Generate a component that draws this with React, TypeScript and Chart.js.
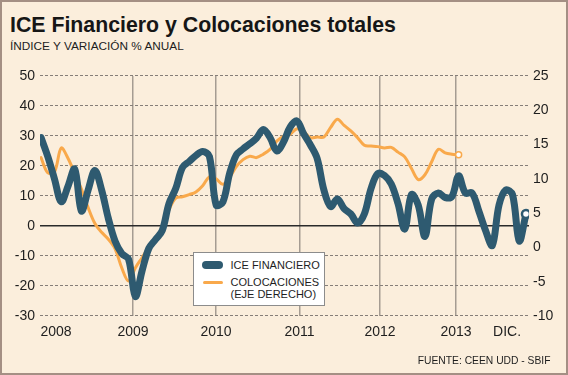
import React, { useEffect, useRef } from "react";
import { Chart, registerables } from "chart.js";

Chart.register(...registerables);

// Monthly values (index 0 ≈ Nov 2007 … index 72 = Dec 2013)
const ICE_FINANCIERO = [
  29.5, 23.2, 15.7, 8.1, 13.2, 19, 5, 12, 18.5, 12,
  2.5, -5.1, -9.2, -11.1, -23.5, -15, -7.5, -4.5, -1.5, 7.5,
  12.5, 19.5, 21.5, 23.5, 24.8, 23.2, 7, 8, 17.5, 23.7,
  25.7, 27.4, 29.3, 32.2, 29.5, 25, 28, 33, 35, 30.7,
  27, 22.5, 12, 6.5, 9, 5.8, 4, 1, 4, 12.5,
  17.5, 16.8, 14, 7.5, -1, 10.5, 7, -3.5, 9, 11,
  9.5, 9.8, 16.7, 11, 11, 5, -1.5, -6.5, 7, 12,
  10.5, -5, 4,
];

const COLOCACIONES = [
  13.1, 10.9, 11, 14.5, 13, 10.8, 8.5, 5.8, 3.5, 2.2,
  1.2, -0.2, -3, -4.9, -3, -1.5, 0, 1.2, 2.8, 5.5,
  7.2, 7.4, 7.7, 8.1, 9, 10.3, 10, 9.2, 10.2, 11.8,
  12.8, 13.3, 13.1, 13.6, 14.3, 15.5, 16.2, 16.5, 17.3, 16.9,
  16, 16.1, 16.1, 17.5, 18.7, 17.8, 17, 16, 14.9, 14.8,
  14.7, 14.5, 14.6, 13.9, 13.2, 11.5, 9.9, 10.6, 12.5, 14.3,
  13.8, 13.6, 13.5,
];

const X_TICK_POS = [2.23, 13.66, 25.98, 38.38, 50.33, 61.61, 69.2];
const X_TICK_LABELS = ["2008", "2009", "2010", "2011", "2012", "2013", "DIC."];
const LEFT_TICKS = [-30, -20, -10, 0, 10, 20, 30, 40, 50];

const LEFT_MIN = -30;
const LEFT_MAX = 50;
const RIGHT_MIN = -10;
const RIGHT_MAX = 25;

const ICE_COLOR = "#2e5a70";
const COL_COLOR = "#f9a94b";
const BG = "#fbeedc";
const FONT = '"Liberation Sans", Arial, sans-serif';

// Draws the horizontal dashed grid (left-axis tick values) and the solid zero line
const gridPlugin = {
  id: "hGrid",
  beforeDatasetsDraw(chart: any) {
    const ctx = chart.ctx;
    const area = chart.chartArea;
    const ys = chart.scales.y;
    ctx.save();
    for (const v of LEFT_TICKS) {
      const y = Math.round(ys.getPixelForValue(v));
      if (v === 0) {
        ctx.fillStyle = "#2a2a2a";
        ctx.fillRect(area.left, y - 1, area.right - area.left, 1.5);
      } else {
        ctx.fillStyle = "#857e78";
        for (let x = area.left; x < area.right - 1; x += 5) {
          ctx.fillRect(x, y - 1, 3, 1);
        }
      }
    }
    ctx.restore();
  },
};

export default function App() {
  const canvasRef = useRef<HTMLCanvasElement | null>(null);

  useEffect(() => {
    const canvas = canvasRef.current;
    if (!canvas) return;
    const iceLast = ICE_FINANCIERO.length - 1;
    const colLast = COLOCACIONES.length - 1;
    const chart = new Chart(canvas, {
      type: "line",
      data: {
        datasets: [
          {
            label: "ICE FINANCIERO",
            data: ICE_FINANCIERO.map((v, i) => ({ x: i, y: v })),
            yAxisID: "y",
            borderColor: ICE_COLOR,
            borderWidth: 7,
            borderCapStyle: "round",
            borderJoinStyle: "round",
            tension: 0.35,
            pointRadius: (c: any) => (c.dataIndex === iceLast ? 4 : 0),
            pointBackgroundColor: "#ffffff",
            pointBorderColor: ICE_COLOR,
            pointBorderWidth: 2.5,
            fill: false,
          },
          {
            label: "COLOCACIONES (EJE DERECHO)",
            data: COLOCACIONES.map((v, i) => ({ x: i, y: v })),
            yAxisID: "y1",
            borderColor: COL_COLOR,
            borderWidth: 3,
            borderCapStyle: "round",
            borderJoinStyle: "round",
            tension: 0.35,
            pointRadius: (c: any) => (c.dataIndex === colLast ? 3 : 0),
            pointBackgroundColor: "#ffffff",
            pointBorderColor: COL_COLOR,
            pointBorderWidth: 1.5,
            fill: false,
          },
        ],
      },
      options: {
        responsive: false,
        animation: false,
        devicePixelRatio: 1,
        layout: { padding: { top: 76, left: 0, right: 0, bottom: 0 } },
        plugins: {
          legend: { display: false },
          tooltip: { enabled: false },
          title: { display: false },
        },
        scales: {
          x: {
            type: "linear",
            min: -0.15,
            max: 72.45,
            afterBuildTicks: (s: any) => {
              s.ticks = X_TICK_POS.map((v) => ({ value: v }));
            },
            afterFit: (s: any) => {
              s.height = 59;
            },
            ticks: {
              autoSkip: false,
              maxRotation: 0,
              padding: 8,
              color: "#1e1e1e",
              font: { family: FONT, size: 14 },
              callback: (_v: any, i: number) => X_TICK_LABELS[i],
            },
            grid: {
              drawTicks: false,
              color: (c: any) =>
                c.index === 0 || c.index === X_TICK_POS.length - 1
                  ? "rgba(0,0,0,0)"
                  : "#a59c92",
              lineWidth: 1.5,
            },
            border: { display: false },
          },
          y: {
            position: "left",
            min: LEFT_MIN,
            max: LEFT_MAX,
            afterFit: (s: any) => {
              s.width = 40;
            },
            ticks: {
              stepSize: 10,
              padding: 5,
              color: "#1e1e1e",
              font: { family: FONT, size: 14 },
            },
            grid: { display: false, drawTicks: false },
            border: { display: false },
          },
          y1: {
            position: "right",
            min: RIGHT_MIN,
            max: RIGHT_MAX,
            afterFit: (s: any) => {
              s.width = 39;
            },
            ticks: {
              stepSize: 5,
              padding: 4,
              color: "#1e1e1e",
              font: { family: FONT, size: 14 },
            },
            grid: { display: false, drawTicks: false },
            border: { display: false },
          },
        },
      } as any,
      plugins: [gridPlugin],
    });
    return () => chart.destroy();
  }, []);

  return (
    <div
      style={{
        position: "fixed",
        left: 0,
        top: 0,
        width: 568,
        height: 375,
        background: BG,
        overflow: "hidden",
        fontFamily: FONT,
      }}
    >
      <div
        style={{
          position: "absolute",
          left: 10,
          top: 15,
          fontSize: 21.3,
          lineHeight: "21px",
          fontWeight: 700,
          color: "#161616",
          whiteSpace: "nowrap",
        }}
      >
        ICE Financiero y Colocaciones totales
      </div>
      <div
        style={{
          position: "absolute",
          left: 10,
          top: 40,
          fontSize: 11.8,
          lineHeight: "12px",
          color: "#1e1e1e",
          whiteSpace: "nowrap",
        }}
      >
        ÍNDICE Y VARIACIÓN % ANUAL
      </div>
      <canvas
        ref={canvasRef}
        width={568}
        height={375}
        style={{ position: "absolute", left: 0, top: 0, width: 568, height: 375 }}
      />
      <div
        style={{
          position: "absolute",
          left: 193,
          top: 252,
          width: 132,
          height: 54,
          boxSizing: "border-box",
          background: "#ffffff",
          border: "1px solid #8c8c8c",
        }}
      />
      <div
        style={{
          position: "absolute",
          left: 202,
          top: 261,
          width: 21,
          height: 7.5,
          borderRadius: 4,
          background: ICE_COLOR,
        }}
      />
      <div
        style={{
          position: "absolute",
          left: 230.5,
          top: 259,
          fontSize: 11,
          lineHeight: "12px",
          color: "#1e1e1e",
          whiteSpace: "nowrap",
        }}
      >
        ICE FINANCIERO
      </div>
      <div
        style={{
          position: "absolute",
          left: 203,
          top: 280.5,
          width: 20,
          height: 3.5,
          borderRadius: 2,
          background: COL_COLOR,
        }}
      />
      <div
        style={{
          position: "absolute",
          left: 230.5,
          top: 277,
          fontSize: 11,
          lineHeight: "11.7px",
          color: "#1e1e1e",
          whiteSpace: "nowrap",
        }}
      >
        COLOCACIONES
        <br />
        (EJE DERECHO)
      </div>
      <div
        style={{
          position: "absolute",
          right: 17.5,
          top: 355,
          fontSize: 10.3,
          lineHeight: "11px",
          color: "#1e1e1e",
          whiteSpace: "nowrap",
        }}
      >
        FUENTE: CEEN UDD - SBIF
      </div>
      <div
        style={{
          position: "absolute",
          left: 0,
          top: 0,
          width: 568,
          height: 375,
          boxSizing: "border-box",
          border: "2px solid #a48f84",
          pointerEvents: "none",
        }}
      />
    </div>
  );
}
